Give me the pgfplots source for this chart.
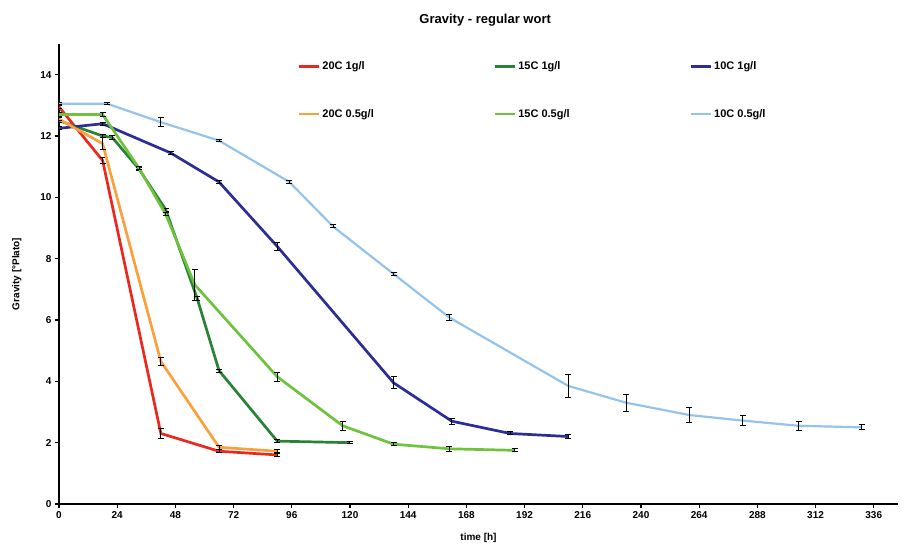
\documentclass[border=0pt]{standalone}
\usepackage{fontspec}
\setmainfont{Liberation Sans}
\usepackage{pgfplots}
\pgfplotsset{compat=1.18}
\definecolor{redA}{RGB}{235,40,30}
\definecolor{orgA}{RGB}{250,160,60}
\definecolor{dgrn}{RGB}{40,130,55}
\definecolor{lgrn}{RGB}{110,195,60}
\definecolor{dblu}{RGB}{45,45,150}
\definecolor{lblu}{RGB}{150,195,235}

\begin{document}
\begin{tikzpicture}
\begin{axis}[
  name=ax, at={(0,0)}, anchor=south west,
  scale only axis, width=839pt, height=460pt,
  xmin=0, xmax=346, ymin=0, ymax=15,
  axis lines=left, axis line style={line width=2pt, -},
  xtick={0,24,...,336}, ytick={0,2,...,14},
  tick style={black, line width=1.2pt}, tick align=outside, major tick length=4pt,
  ticklabel style={font=\bfseries\fontsize{10}{12}\selectfont},
  /pgf/number format/assume math mode=true,
  title={Gravity - regular wort},
  title style={font=\bfseries\fontsize{13}{15}\selectfont, at={(0.508,1)}, anchor=south, yshift=8pt},
  xlabel={time [h]},
  xlabel style={font=\bfseries\fontsize{10}{12}\selectfont, yshift=-8pt},
  ylabel={Gravity [°Plato]},
  ylabel style={font=\bfseries\fontsize{10}{12}\selectfont, yshift=12pt},
  legend style={at={(0.281,0.97)}, anchor=north west, draw=none, fill=none,
    font=\bfseries\fontsize{11}{13}\selectfont, cells={anchor=west},
    /tikz/every even column/.append style={column sep=118pt}, row sep=34pt},
  legend columns=3,
  legend image code/.code={\draw[#1, line width=2.5pt] (0pt,0pt) -- (20pt,0pt);},
  every axis plot/.append style={no marks, line width=2.7pt,
    error bars/y dir=both, error bars/y explicit,
    error bars/error bar style={black, line width=1pt},
    error bars/error mark options={rotate=90, mark size=3pt, black, line width=1pt}},
]
% 20C 1g/l
\addplot[redA] coordinates {
  (0,12.95) +- (0,0.05) (18,11.2) +- (0,0.1) (42,2.3) +- (0,0.17)
  (66,1.72) +- (0,0.05) (90,1.6) +- (0,0.05) };
\addlegendentry{20C 1g/l}
% 15C 1g/l
\addplot[dgrn] coordinates {
  (0,12.5) +- (0,0.05) (18,12.0) +- (0,0.05) (22,11.95) +- (0,0.05)
  (33,10.92) +- (0,0.05) (44,9.6) +- (0,0.05) (57,6.7) +- (0,0.05)
  (66,4.35) +- (0,0.05) (90,2.05) +- (0,0.05) (120,2.0) +- (0,0.03) };
\addlegendentry{15C 1g/l}
% 10C 1g/l
\addplot[dblu] coordinates {
  (0,12.25) +- (0,0.05) (18,12.4) +- (0,0.05) (46,11.45) +- (0,0.05)
  (66,10.5) +- (0,0.05) (90,8.4) +- (0,0.12) (138,3.95) +- (0,0.2)
  (162,2.7) +- (0,0.1) (186,2.3) +- (0,0.05) (210,2.2) +- (0,0.05) };
\addlegendentry{10C 1g/l}
% 20C 0.5g/l
\addplot[orgA] coordinates {
  (0,12.55) +- (0,0.05) (18,11.75) +- (0,0.2) (42,4.65) +- (0,0.14)
  (66,1.85) +- (0,0.06) (90,1.72) +- (0,0.05) };
\addlegendentry{20C 0.5g/l}
% 15C 0.5g/l
\addplot[lgrn] coordinates {
  (0,12.7) +- (0,0.05) (18,12.7) +- (0,0.08) (33,10.95) +- (0,0.05)
  (44,9.45) +- (0,0.05) (56,7.15) +- (0,0.5) (90,4.15) +- (0,0.15)
  (117,2.55) +- (0,0.15) (138,1.95) +- (0,0.05) (161,1.8) +- (0,0.08)
  (188,1.75) +- (0,0.05) };
\addlegendentry{15C 0.5g/l}
% 10C 0.5g/l
\addplot[lblu, line width=2.2pt] coordinates {
  (0,13.05) +- (0,0.03) (20,13.05) +- (0,0.03) (42,12.45) +- (0,0.15)
  (66,11.85) +- (0,0.03) (95,10.5) +- (0,0.05) (113,9.05) +- (0,0.05)
  (138,7.5) +- (0,0.05) (161,6.08) +- (0,0.1) (210,3.85) +- (0,0.38)
  (234,3.3) +- (0,0.28) (260,2.9) +- (0,0.25) (282,2.72) +- (0,0.15)
  (305,2.55) +- (0,0.15) (331,2.5) +- (0,0.08) };
\addlegendentry{10C 0.5g/l}
\end{axis}
\pgfresetboundingbox
\path[use as bounding box] (-59pt,-44pt) rectangle (845pt,504pt);
\end{tikzpicture}
\end{document}
